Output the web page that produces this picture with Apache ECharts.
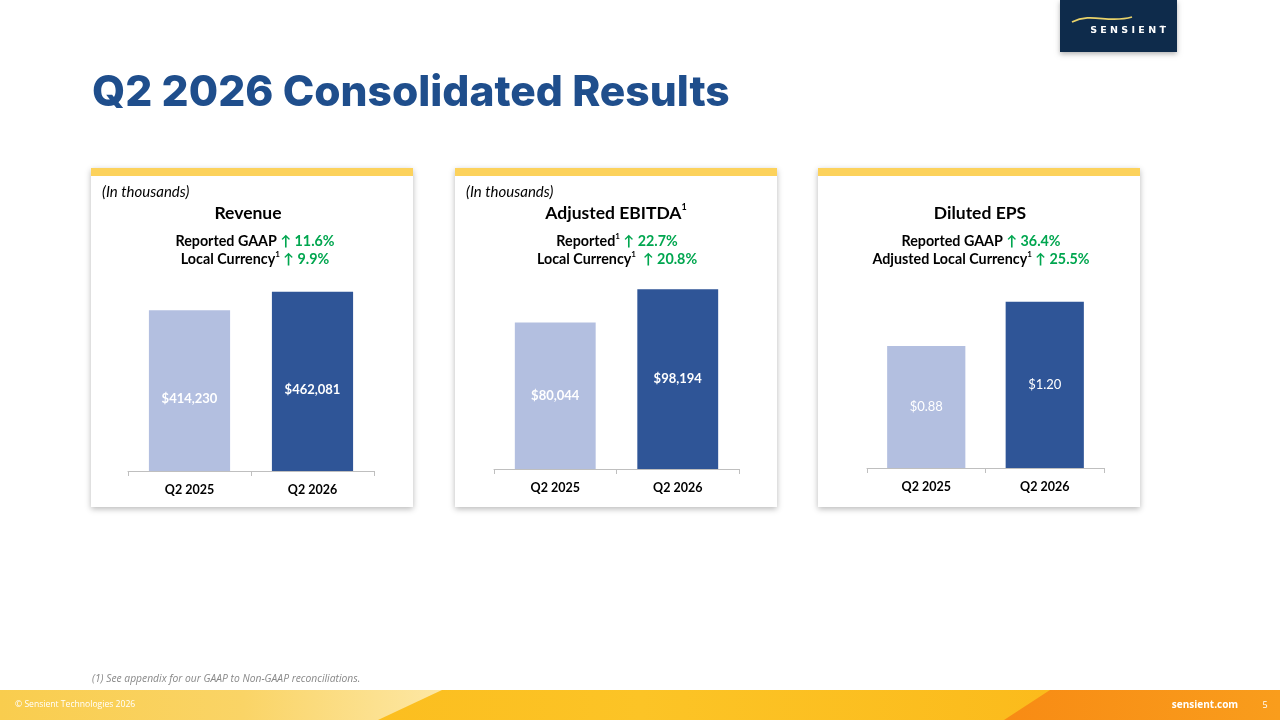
<!DOCTYPE html>
<html lang="en">

<head>
    <meta charset="UTF-8">
    <title>Q2 2026 Consolidated Results</title>
    <script src="https://cdn.jsdelivr.net/npm/echarts@6/dist/echarts.min.js"></script>
    <style>
        html, body { margin: 0; padding: 0; background: #fff; }
    </style>
</head>

<body>
    <div id="main" style="width: 1280px; height: 720px;"></div>
    <script>
    // data
    const categories = ['Q2 2025', 'Q2 2026']
    const revenue = [414230, 462081]
    const ebitda = [80044, 98194]
    const eps = [0.88, 1.20]

    const LIGHT = '#B3BFE0'
    const DARK = '#2F5597'
    const GREEN = '#00A64F'
    const FONT = 'Lato, "Noto Sans", sans-serif'

    function thousands(v) {
        return '$' + v.toLocaleString('en-US')
    }
    function dollars(v) {
        return '$' + v.toFixed(2)
    }

    // card behind each chart
    function panel(x) {
        return [
            {
                type: 'rect', z: -10,
                shape: { x: x, y: 168, width: 322, height: 339 },
                style: { fill: '#fff', shadowBlur: 6, shadowOffsetY: 2, shadowColor: 'rgba(0,0,0,0.28)' }
            },
            {
                type: 'rect', z: -9,
                shape: { x: x, y: 168, width: 322, height: 8 },
                style: { fill: '#FCD25C' }
            }
        ]
    }

    function text(t, x, y, opts) {
        return {
            type: 'text', z: 5,
            style: Object.assign({
                text: t, x: x, y: y,
                fill: '#000',
                font: 'bold 17.5px ' + FONT,
                align: 'center',
                verticalAlign: 'middle'
            }, opts || {})
        }
    }

    // zrender rich text uses fill, not color
    const rich = {
        b: { fontFamily: FONT, fontWeight: 'bold', fontSize: 14.3, fill: '#000', lineHeight: 18 },
        g: { fontFamily: FONT, fontWeight: 'bold', fontSize: 14.3, fill: GREEN, lineHeight: 18 },
        s: { fontFamily: FONT, fontWeight: 'bold', fontSize: 8, fill: '#000', verticalAlign: 'top', lineHeight: 18, padding: [0, 0, 8, 0] }
    }
    function line(t, x, y) {
        return text(t, x, y, { rich: rich, font: 'bold 14.3px ' + FONT })
    }

    const graphic = [].concat(
        panel(91), panel(455), panel(818),
        [
            // title
            text('Q2 2026 Consolidated Results', 92, 93, {
                font: '800 42.5px Inter, "Noto Sans", sans-serif', fill: '#1F4E8C', align: 'left'
            }),
            // logo
            {
                type: 'rect', z: 4,
                shape: { x: 1060, y: 0, width: 117, height: 52 },
                style: { fill: '#0E2B4B', shadowBlur: 5, shadowOffsetY: 2, shadowColor: 'rgba(0,0,0,0.3)' }
            },
            {
                type: 'bezierCurve', z: 5,
                shape: { x1: 1072, y1: 22, cpx1: 1092, cpy1: 12, cpx2: 1108, cpy2: 24, x2: 1132, y2: 17 },
                style: { stroke: '#E8D26A', lineWidth: 1.8, fill: null }
            },
            text('S E N S I E N T', 1128, 31, { font: 'bold 9.5px "DejaVu Sans", sans-serif', fill: '#fff' }),
            text('™', 1162, 27, { font: '4px sans-serif', fill: '#fff' }),

            // revenue panel
            text('(In thousands)', 102, 192, { font: 'italic 15px ' + FONT, align: 'left' }),
            text('Revenue', 248, 213),
            line('{b|Reported GAAP }{g|↑ 11.6%}', 255, 241),
            line('{b|Local Currency}{s|1}{g| ↑ 9.9%}', 255, 259),

            // ebitda panel
            text('(In thousands)', 466, 192, { font: 'italic 15px ' + FONT, align: 'left' }),
            text('{t|Adjusted EBITDA}{ts|1}', 616, 213, {
                rich: {
                    t: { fontFamily: FONT, fontWeight: 'bold', fontSize: 17.5, fill: '#000', lineHeight: 20 },
                    ts: { fontFamily: FONT, fontWeight: 'bold', fontSize: 9, fill: '#000', verticalAlign: 'top', lineHeight: 20, padding: [0, 0, 10, 0] }
                }
            }),
            line('{b|Reported}{s|1}{g| ↑ 22.7%}', 617, 241),
            line('{b|Local Currency}{s|1}{g|  ↑ 20.8%}', 617, 259),

            // eps panel
            text('Diluted EPS', 980, 213),
            line('{b|Reported GAAP }{g|↑ 36.4%}', 981, 241),
            line('{b|Adjusted Local Currency}{s|1}{g| ↑ 25.5%}', 981, 259),

            // footnote
            text('(1) See appendix for our GAAP to Non-GAAP reconciliations.', 92, 679, {
                font: 'italic 10.3px "Open Sans", sans-serif', fill: '#888', align: 'left'
            }),

            // footer band
            {
                type: 'rect', z: 1,
                shape: { x: 0, y: 690, width: 1280, height: 30 },
                style: {
                    fill: new echarts.graphic.LinearGradient(0, 0, 1, 0, [
                        { offset: 0, color: '#FBB616' },
                        { offset: 0.5, color: '#FCC426' },
                        { offset: 1, color: '#FBB616' }
                    ])
                }
            },
            {
                type: 'polygon', z: 2,
                shape: { points: [[0, 690], [442, 690], [378, 720], [0, 720]] },
                style: {
                    fill: new echarts.graphic.LinearGradient(0, 0, 1, 0, [
                        { offset: 0, color: '#F9CD4E' },
                        { offset: 0.55, color: '#FAD466' },
                        { offset: 1, color: '#FDE7A4' }
                    ])
                }
            },
            {
                type: 'polygon', z: 2,
                shape: { points: [[1050, 690], [1280, 690], [1280, 720], [1004, 720]] },
                style: {
                    fill: new echarts.graphic.LinearGradient(0, 0, 1, 0, [
                        { offset: 0, color: '#F88B14' },
                        { offset: 1, color: '#F99D1C' }
                    ])
                }
            },
            text('© Sensient Technologies 2026', 15, 705, {
                font: '8.6px "Open Sans", sans-serif', fill: '#fff', align: 'left'
            }),
            text('sensient.com', 1205, 705, { font: 'bold 10px "Open Sans", sans-serif', fill: '#fff' }),
            text('5', 1265, 705, { font: '9px "Open Sans", sans-serif', fill: '#fff' })
        ]
    )

    const grids = [
        { left: 128, top: 277, width: 246, height: 194 },
        { left: 494, top: 286, width: 245, height: 183 },
        { left: 867, top: 274, width: 237, height: 194 }
    ]
    const maxes = [500000, 100000, 1.4]
    const sets = [revenue, ebitda, eps]
    const formats = [thousands, thousands, dollars]
    const labelOffsets = [[0, 8], [0, 0], [0, 0]]

    const xAxis = grids.map(function (g, i) {
        return {
            gridIndex: i,
            type: 'category',
            data: categories,
            axisLine: { lineStyle: { color: '#BFBFBF', width: 1 } },
            axisTick: { show: true, length: 5, lineStyle: { color: '#BFBFBF' } },
            axisLabel: { color: '#000', fontFamily: FONT, fontWeight: 'bold', fontSize: 12.5, margin: 12 }
        }
    })
    const yAxis = grids.map(function (g, i) {
        return { gridIndex: i, type: 'value', min: 0, max: maxes[i], show: false, splitLine: { show: false } }
    })
    const series = sets.map(function (values, i) {
        return {
            type: 'bar',
            xAxisIndex: i,
            yAxisIndex: i,
            barWidth: '66%',
            data: values.map(function (v, j) {
                return { value: v, itemStyle: { color: j === 0 ? LIGHT : DARK } }
            }),
            label: {
                show: true,
                position: 'inside',
                offset: labelOffsets[i],
                color: '#fff',
                fontFamily: FONT,
                fontWeight: i === 2 ? 'normal' : 'bold',
                fontSize: 13,
                formatter: function (p) { return formats[i](p.value) }
            },
            emphasis: { disabled: true }
        }
    })

    const myChart = echarts.init(document.getElementById('main'))
    myChart.setOption({
        animation: false,
        backgroundColor: '#fff',
        grid: grids,
        xAxis: xAxis,
        yAxis: yAxis,
        series: series,
        graphic: graphic
    })
    </script>
</body>

</html>
